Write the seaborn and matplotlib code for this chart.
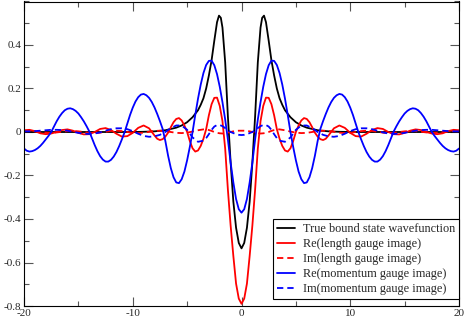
import numpy as np
import pandas as pd
import matplotlib
matplotlib.use("Agg")
import matplotlib.pyplot as plt
from matplotlib.ticker import MultipleLocator, FuncFormatter
import seaborn as sns

# values for x >= 0 (the curves are mirror symmetric)
x_true = [0, 0.25, 0.5, 0.75, 1.0, 1.25, 1.5, 1.75, 1.9, 2.07, 2.25, 2.5, 2.75, 3.0, 3.25,
          3.5, 3.75, 4.0, 4.5, 5.0, 5.5, 6.0, 7.0, 8.0, 9.0, 10.0, 20.0]
true_state = [-0.535, -0.51, -0.44, -0.32, -0.14, 0.07, 0.32, 0.48, 0.525, 0.535, 0.505,
              0.42, 0.33, 0.26, 0.2, 0.155, 0.125, 0.1, 0.068, 0.045, 0.03, 0.02, 0.008,
              0.003, 0.001, 0.0, 0.0]

x_re_len = [0, 0.25, 0.5, 0.75, 1.0, 1.25, 1.5, 1.75, 2.0, 2.25, 2.5, 2.75, 3.0, 3.25, 3.5,
            3.75, 4.0, 4.25, 4.5, 4.75, 5.0, 5.25, 5.5, 5.75, 6.0, 6.25, 6.5, 6.75, 7.0,
            7.25, 7.5, 7.75, 8.0, 8.5, 9.0, 9.5, 10.0, 10.5, 11.0, 11.5, 12.0, 12.5, 13.0,
            13.5, 14.0, 14.5, 15.0, 15.5, 16.0, 16.5, 17.0, 17.5, 18.0, 18.5, 19.0, 19.5,
            20.0]
re_length = [-0.79, -0.766, -0.697, -0.57, -0.43, -0.266, -0.077, 0.05, 0.12, 0.158, 0.157,
             0.128, 0.077, 0.013, -0.031, -0.064, -0.085, -0.09, -0.075, -0.042, 0.0, 0.03,
             0.053, 0.064, 0.06, 0.045, 0.022, -0.003, -0.021, -0.033, -0.037, -0.031,
             -0.016, 0.017, 0.03, 0.019, -0.004, -0.019, -0.021, -0.008, 0.009, 0.018,
             0.014, 0.0, -0.01, -0.011, -0.004, 0.006, 0.012, 0.009, 0.0, -0.007, -0.01,
             -0.006, 0.004, 0.01, 0.008]

x_re_mom = [i * 0.25 for i in range(81)]
re_momentum = [-0.371, -0.355, -0.308, -0.232, -0.141, -0.035, 0.057, 0.137, 0.208, 0.266,
               0.307, 0.328, 0.327, 0.308, 0.271, 0.218, 0.153, 0.079, 0.0, -0.068, -0.13,
               -0.182, -0.217, -0.235, -0.232, -0.208, -0.166, -0.109, -0.042, 0.014, 0.05,
               0.083, 0.113, 0.138, 0.157, 0.169, 0.175, 0.172, 0.16, 0.14, 0.112, 0.078,
               0.039, -0.001, -0.034, -0.065, -0.092, -0.113, -0.128, -0.136, -0.136, -0.127,
               -0.111, -0.088, -0.06, -0.028, 0.003, 0.027, 0.049, 0.068, 0.085, 0.097,
               0.105, 0.109, 0.107, 0.1, 0.087, 0.07, 0.049, 0.025, 0.0, -0.018, -0.034,
               -0.05, -0.064, -0.075, -0.083, -0.088, -0.09, -0.086, -0.076]

x_im = [0, 0.25, 0.5, 0.75, 1.0, 1.25, 1.5, 1.75, 2.0, 2.25, 2.5, 2.75, 3.0, 3.25, 3.5,
        4.0, 4.5, 5.0, 5.5, 6.0, 6.5, 7.0, 7.5, 8.0, 8.5, 9.0, 9.5, 10.0, 10.5, 11.0,
        11.5, 12.0, 12.5, 13.0, 13.5, 14.0, 14.5, 15.0, 15.5, 16.0, 16.5, 17.0, 17.5,
        18.0, 18.5, 19.0, 19.5, 20.0]
im_length = [0.006, 0.006, 0.005, 0.003, 0.0, -0.003, -0.006, -0.007, -0.006, -0.004, 0.0,
             0.005, 0.009, 0.012, 0.012, 0.008, 0.002, -0.003, -0.005, -0.004, 0.0, 0.004,
             0.006, 0.005, 0.001, -0.003, -0.005, -0.004, 0.0, 0.004, 0.006, 0.005, 0.001,
             -0.003, -0.005, -0.004, 0.0, 0.003, 0.005, 0.004, 0.001, -0.002, -0.004,
             -0.003, 0.0, 0.003, 0.004, 0.003]
im_momentum = [-0.014, -0.013, -0.01, -0.005, 0.0, 0.008, 0.018, 0.027, 0.032, 0.032, 0.025,
               0.01, -0.01, -0.028, -0.04, -0.045, -0.025, 0.01, 0.03, 0.03, 0.018, 0.0,
               -0.013, -0.02, -0.022, -0.018, -0.008, 0.004, 0.013, 0.017, 0.017, 0.013,
               0.006, -0.002, -0.007, -0.009, -0.008, -0.004, 0.001, 0.006, 0.009, 0.01,
               0.01, 0.008, 0.006, 0.004, 0.003, 0.003]

labels = ["True bound state wavefunction", "Re(length gauge image)",
          "Im(length gauge image)", "Re(momentum gauge image)", "Im(momentum gauge image)"]
xs = [x_true, x_re_len, x_im, x_re_mom, x_im]
series = [true_state, re_length, im_length, re_momentum, im_momentum]
colors = ["black", "#ff0000", "#ff0000", "#0000ff", "#0000ff"]
styles = ["-", "-", (0, (3.5, 2.2)), "-", (0, (3.5, 2.2))]


def mirror(x, v):
    x = np.asarray(x, dtype=float)
    v = np.asarray(v, dtype=float)
    return np.concatenate([-x[::-1], x[1:]]), np.concatenate([v[::-1], v[1:]])


sns.set_theme(style="ticks")
plt.rcParams['font.family'] = ['Liberation Serif', 'DejaVu Serif']
plt.rcParams['axes.unicode_minus'] = False

fig = plt.figure(figsize=(4.67, 3.21), dpi=100)
ax = fig.add_axes([24 / 467, 15 / 321, 435 / 467, 304.5 / 321])

for lab, xv, vals, col, ls in zip(labels, xs, series, colors, styles):
    xf, yf = mirror(xv, vals)
    df = pd.DataFrame({'x': xf, 'y': yf})
    sns.lineplot(data=df, x='x', y='y', ax=ax, color=col, linestyle=ls,
                 linewidth=1.3, label=lab, estimator=None, sort=False)

ax.set_xlim(-20, 20)
ax.set_ylim(-0.8, 0.6)
ax.set_xlabel('')
ax.set_ylabel('')
ax.xaxis.set_major_locator(MultipleLocator(10))
ax.xaxis.set_minor_locator(MultipleLocator(5))
ax.set_yticks([-0.8, -0.6, -0.4, -0.2, 0, 0.2, 0.4])
ax.yaxis.set_minor_locator(MultipleLocator(0.1))
fmt = FuncFormatter(lambda v, p: '%g' % round(v, 3))
ax.xaxis.set_major_formatter(fmt)
ax.yaxis.set_major_formatter(fmt)
ax.tick_params(which='both', direction='in', top=True, right=True,
               labelsize=8, color='#555555', width=0.8, pad=2)
ax.tick_params(which='major', length=6.5)
ax.tick_params(which='minor', length=3.5)
for sp in ax.spines.values():
    sp.set_color('black')
    sp.set_linewidth(0.8)

leg = ax.legend(loc='lower right', bbox_to_anchor=(1.0, 7 / 304.5), fontsize=8.8,
                frameon=True, fancybox=False, edgecolor='black', framealpha=1,
                handlelength=1.5, handletextpad=0.65, labelspacing=0.25,
                borderpad=0.3, borderaxespad=0)
leg.get_frame().set_linewidth(0.8)

fig.savefig('out.png', dpi=100)
